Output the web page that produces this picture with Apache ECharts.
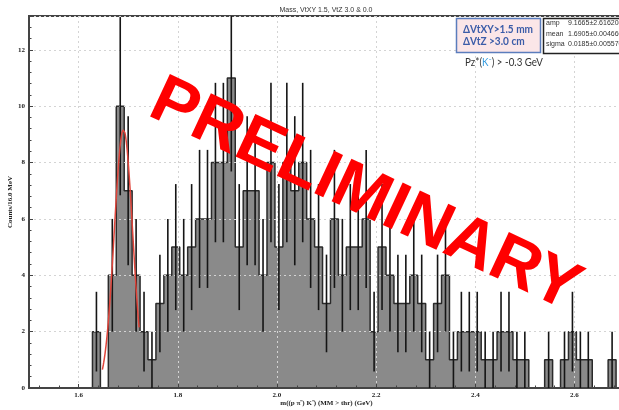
<!DOCTYPE html>
<html>
<head>
<meta charset="utf-8">
<script src="https://cdn.jsdelivr.net/npm/echarts@6/dist/echarts.min.js"></script>
<style>
  html, body { margin: 0; padding: 0; background: #ffffff; }
  #chart { width: 619px; height: 410px; }
</style>
</head>
<body>
<div id="chart"></div>
<script>
// Invariant mass histogram: 75 bins of 16 MeV between 1.5 and 2.7 GeV
const massMin = 1.5;
const massMax = 2.7;
const binWidth = 0.016;
const counts = [
  0, 0, 0, 0, 0, 0, 0, 0,
  2, 0, 4, 10, 7, 4, 2, 1, 3, 4,
  5, 4, 5, 6, 6, 8, 8, 11, 5, 7,
  7, 4, 8, 5, 8, 7, 8, 6, 5, 3,
  6, 4, 5, 5, 6, 2, 5, 4, 3, 3,
  4, 3, 1, 3, 4, 1, 2, 2, 2, 1,
  1, 2, 2, 1, 1, 0, 0, 1, 0, 1,
  2, 1, 1, 0, 0, 1, 0
];

// Gaussian fit result (amp, mean, sigma) and the range it was fitted over
const fitAmp = 9.1665;
const fitMean = 1.6905;
const fitSigma = 0.0185;
const fitRange = [1.648, 1.722];

// Fit statistics box rows
const statNames = ['amp', 'mean', 'sigma'];
const statValues = ['9.1665\u00b12.616208', '1.6905\u00b10.004660', '0.0185\u00b10.005570'];

// Selection cuts
const cutLines = ['\u0394VtXY>1.5 mm', '\u0394VtZ >3.0 cm'];

const yMax = 13.2;

// Step outline points at bin edges
const histSteps = counts.map((c, i) => [+(massMin + i * binWidth).toFixed(4), c]);
histSteps.push([+(massMin + counts.length * binWidth).toFixed(4), counts[counts.length - 1]]);

// Poisson error bars at bin centres
const errPoints = counts
  .map((c, i) => [+(massMin + (i + 0.5) * binWidth).toFixed(4), c])
  .filter(p => p[1] > 0);

// Fit curve evaluated over the fit range
const fitPoints = [];
for (let i = 0; i <= 80; i++) {
  const x = fitRange[0] + (fitRange[1] - fitRange[0]) * i / 80;
  const d = (x - fitMean) / fitSigma;
  fitPoints.push([x, fitAmp * Math.exp(-0.5 * d * d)]);
}

const chart = echarts.init(document.getElementById('chart'), null, { renderer: 'canvas' });

const axisFont = { fontFamily: 'Liberation Serif', fontSize: 7, fontWeight: 'bold', color: '#222' };

chart.setOption({
  animation: false,
  backgroundColor: '#ffffff',
  grid: {
    left: 29, right: -5, top: 16, bottom: 22,
    outerBoundsMode: 'none',
    containLabel: false,
    show: true, borderColor: '#444', borderWidth: 2, backgroundColor: 'transparent'
  },
  xAxis: {
    type: 'value',
    min: massMin, max: massMax,
    splitNumber: 6,
    z: 3,
    name: 'm((p \u03c0\u207b) K\u207b) (MM > thr) (GeV)',
    nameLocation: 'middle',
    nameGap: 12,
    nameMoveOverlap: false,
    nameTextStyle: { fontFamily: 'Liberation Serif', fontSize: 7, fontWeight: 'bold', color: '#222' },
    axisLine: { lineStyle: { color: '#444', width: 2 } },
    axisTick: { inside: true, length: 4, lineStyle: { color: '#444' } },
    minorTick: { show: true, splitNumber: 5, length: 2.5, lineStyle: { color: '#444' } },
    axisLabel: Object.assign({ margin: 4, showMinLabel: false, showMaxLabel: false,
      formatter: v => v.toFixed(1) }, axisFont),
    splitLine: { show: true, lineStyle: { color: '#d4d4d4', type: [2, 3], width: 1 } }
  },
  yAxis: {
    type: 'value',
    min: 0, max: yMax, interval: 2,
    z: 3,
    name: 'Counts/16.0 MeV',
    nameLocation: 'middle',
    nameGap: 15,
    nameMoveOverlap: false,
    nameTextStyle: { fontFamily: 'Liberation Serif', fontSize: 7, fontWeight: 'bold', color: '#222' },
    axisLine: { show: true, lineStyle: { color: '#444', width: 2 } },
    axisTick: { inside: true, length: 4, lineStyle: { color: '#444' } },
    minorTick: { show: true, splitNumber: 5, length: 2.5, lineStyle: { color: '#444' } },
    axisLabel: Object.assign({ margin: 4,
      formatter: v => (Math.abs(v % 2) < 1e-9 ? String(v) : '') }, axisFont),
    splitLine: { show: true, lineStyle: { color: '#d4d4d4', type: [2, 3], width: 1 } }
  },
  series: [
    {
      name: 'histogram',
      type: 'line',
      data: histSteps,
      step: 'end',
      symbol: 'none',
      z: 1,
      lineStyle: { color: '#2a2a2a', width: 1.5 },
      areaStyle: { color: '#8a8a8a', opacity: 1 }
    },
    {
      name: 'errors',
      type: 'custom',
      data: errPoints,
      z: 6,
      encode: { x: 0, y: 1 },
      renderItem: function (params, api) {
        const x = api.value(0);
        const n = api.value(1);
        const e = Math.sqrt(n);
        const p0 = api.coord([x, Math.max(n - e, 0)]);
        const p1 = api.coord([x, Math.min(n + e, yMax)]);
        return {
          type: 'line',
          shape: { x1: p0[0], y1: p0[1], x2: p1[0], y2: p1[1] },
          style: { stroke: '#151515', lineWidth: 1.6 }
        };
      }
    },
    {
      name: 'fit',
      type: 'line',
      data: fitPoints,
      symbol: 'none',
      z: 7,
      lineStyle: { color: '#e0443a', width: 1.5 }
    }
  ],
  graphic: [
    {
      type: 'text', x: 326, y: 10.5, z: 50,
      style: { text: 'Mass, VtXY 1.5, VtZ 3.0 & 0.0', fontFamily: 'Liberation Sans', fontSize: 7,
        fill: '#333', align: 'center', verticalAlign: 'middle' }
    },
    {
      type: 'rect', z: 50,
      shape: { x: 456.5, y: 18.5, width: 84, height: 34 },
      style: { fill: '#fbe6e8', stroke: '#5b7dbd', lineWidth: 1.5 }
    },
    {
      type: 'text', x: 463, y: 29, z: 51, scaleX: 0.84,
      style: { text: cutLines[0], fontFamily: 'Lato', fontWeight: 'bold', fontSize: 12,
        fill: '#3b5ca8', align: 'left', verticalAlign: 'middle' }
    },
    {
      type: 'text', x: 463, y: 41.5, z: 51, scaleX: 0.84,
      style: { text: cutLines[1], fontFamily: 'Lato', fontWeight: 'bold', fontSize: 12,
        fill: '#3b5ca8', align: 'left', verticalAlign: 'middle' }
    },
    {
      type: 'rect', z: 50,
      shape: { x: 543.5, y: 18.5, width: 90, height: 35 },
      style: { fill: '#ffffff', stroke: '#222', lineWidth: 1.5 }
    },
    ...statNames.map((s, i) => ({
      type: 'text', x: 546, y: 23.5 + i * 10.5, z: 51,
      style: { text: s, fontFamily: 'Liberation Sans', fontSize: 7, fill: '#333',
        align: 'left', verticalAlign: 'middle' }
    })),
    ...statValues.map((s, i) => ({
      type: 'text', x: 568, y: 23.5 + i * 10.5, z: 51,
      style: { text: s, fontFamily: 'Liberation Sans', fontSize: 7, fill: '#333',
        align: 'left', verticalAlign: 'middle' }
    })),
    {
      type: 'text', x: 465, y: 63, z: 51, scaleX: 0.93,
      style: {
        text: '{a|Pz*(}{b|K\u207b}{a|) > -0.3 GeV}',
        align: 'left', verticalAlign: 'middle',
        rich: {
          a: { fontFamily: 'Lato', fontSize: 10.5, fill: '#333' },
          b: { fontFamily: 'Lato', fontSize: 10.5, fill: '#3a9ee0' }
        }
      }
    },
    {
      type: 'text', x: 365, y: 196, z: 100,
      rotation: -25 * Math.PI / 180,
      style: { text: 'PRELIMINARY', fontFamily: 'Liberation Sans', fontWeight: 'bold', fontSize: 68,
        fill: '#ff0000', align: 'center', verticalAlign: 'middle' }
    }
  ]
});
</script>
</body>
</html>
